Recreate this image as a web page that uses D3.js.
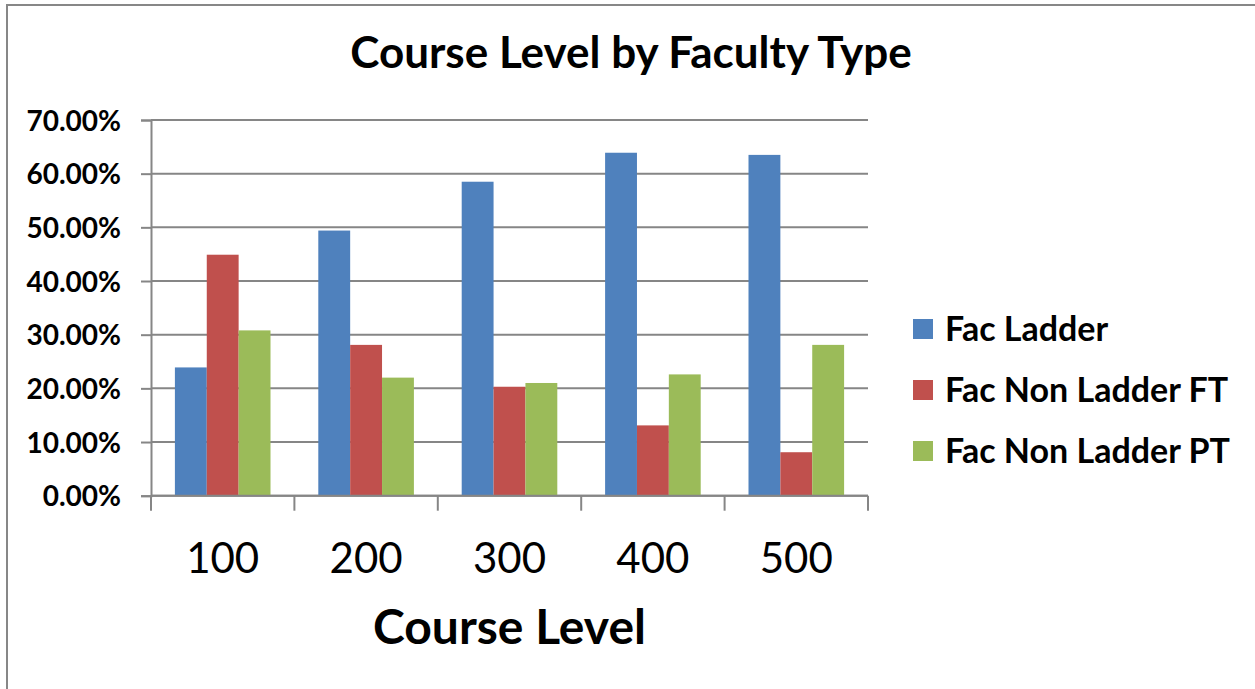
<!DOCTYPE html>
<html>
<head>
<meta charset="utf-8">
<script src="https://cdn.jsdelivr.net/npm/d3@7"></script>
<style>
  html, body { margin: 0; padding: 0; background: #fff; }
  svg { display: block; }
  text { font-family: Lato, "Open Sans", "Liberation Sans", sans-serif; fill: #000; }
</style>
</head>
<body>
<svg id="chart" width="1255" height="689"></svg>
<script>
const categories = ["100", "200", "300", "400", "500"];
const seriesNames = ["Fac Ladder", "Fac Non Ladder FT", "Fac Non Ladder PT"];
const facLadder = [0.239, 0.494, 0.585, 0.639, 0.635];
const facNonLadderFT = [0.449, 0.281, 0.203, 0.131, 0.081];
const facNonLadderPT = [0.308, 0.220, 0.210, 0.226, 0.281];
const yTicks = [0, 0.1, 0.2, 0.3, 0.4, 0.5, 0.6, 0.7];
const colors = ["#4F81BD", "#C0504D", "#9BBB59"];
const title = "Course Level by Faculty Type";
const xTitle = "Course Level";

const seriesValues = [facLadder, facNonLadderFT, facNonLadderPT];
const rows = categories.map((c, i) => ({
  cat: c,
  vals: seriesNames.map((s, j) => ({ key: s, value: seriesValues[j][i], color: colors[j] }))
}));

const svg = d3.select("#chart");
const grid = "#868686";
const m = { left: 151, right: 868, top: 120, bottom: 495.7 };

// outer chart border (right and bottom edges fall outside the picture)
svg.append("rect")
  .attr("x", 7).attr("y", 5).attr("width", 1270).attr("height", 700)
  .attr("fill", "none").attr("stroke", "#878787").attr("stroke-width", 2);

const x0 = d3.scaleBand().domain(categories).range([m.left, m.right]).padding(0);
const step = x0.bandwidth();
const barW = step / 4.5;
const x1 = d3.scaleBand().domain(seriesNames)
  .range([barW * 0.75, step - barW * 0.75]).padding(0);
const y = d3.scaleLinear().domain([0, 0.7]).range([m.bottom, m.top]);

// gridlines
svg.append("g").selectAll("line").data(yTicks).join("line")
  .attr("x1", m.left).attr("x2", m.right)
  .attr("y1", d => y(d)).attr("y2", d => y(d))
  .attr("stroke", grid).attr("stroke-width", 2);

// bars
const groups = svg.append("g").selectAll("g").data(rows).join("g")
  .attr("transform", d => `translate(${x0(d.cat)},0)`);
groups.selectAll("rect").data(d => d.vals).join("rect")
  .attr("x", d => x1(d.key))
  .attr("width", x1.bandwidth())
  .attr("y", d => y(d.value))
  .attr("height", d => y(0) - y(d.value))
  .attr("fill", d => d.color);

// y axis
const yAxis = svg.append("g").attr("transform", `translate(${m.left},0)`)
  .call(d3.axisLeft(y).tickValues(yTicks).tickFormat(d3.format(".2%")).tickSize(10).tickPadding(20));
yAxis.select(".domain").attr("stroke", grid).attr("stroke-width", 2);
yAxis.selectAll(".tick line").attr("stroke", grid).attr("stroke-width", 2);
yAxis.selectAll(".tick text")
  .style("font-size", "28px").style("font-weight", "bold")
  .attr("dy", "0.36em").attr("x", -30);

// x axis
const xTickScale = d3.scalePoint().domain(d3.range(categories.length + 1)).range([m.left, m.right]);
const xAxis = svg.append("g").attr("transform", `translate(0,${m.bottom})`);
xAxis.append("line").attr("x1", m.left).attr("x2", m.right)
  .attr("stroke", grid).attr("stroke-width", 2);
xAxis.selectAll("line.tk").data(xTickScale.domain()).join("line").attr("class", "tk")
  .attr("x1", d => xTickScale(d)).attr("x2", d => xTickScale(d))
  .attr("y1", 0).attr("y2", 15)
  .attr("stroke", grid).attr("stroke-width", 2);
xAxis.selectAll("text").data(categories).join("text")
  .attr("x", d => x0(d) + step / 2).attr("y", 77)
  .attr("text-anchor", "middle")
  .style("font-size", "42px")
  .text(d => d);

// titles
svg.append("text").attr("x", 631).attr("y", 68).attr("text-anchor", "middle")
  .style("font-size", "44px").style("font-weight", "bold").text(title);
svg.append("text").attr("x", (m.left + m.right) / 2).attr("y", 644).attr("text-anchor", "middle")
  .style("font-size", "48px").style("font-weight", "bold").text(xTitle);

// legend
const lg = svg.append("g").selectAll("g").data(seriesNames).join("g")
  .attr("transform", (d, i) => `translate(913,${319 + i * 61})`);
lg.append("rect").attr("width", 20).attr("height", 20).attr("fill", (d, i) => colors[i]);
lg.append("text").attr("x", 32).attr("y", 10).attr("dy", "0.36em")
  .style("font-size", "34px").style("font-weight", "bold").text(d => d);
</script>
</body>
</html>
